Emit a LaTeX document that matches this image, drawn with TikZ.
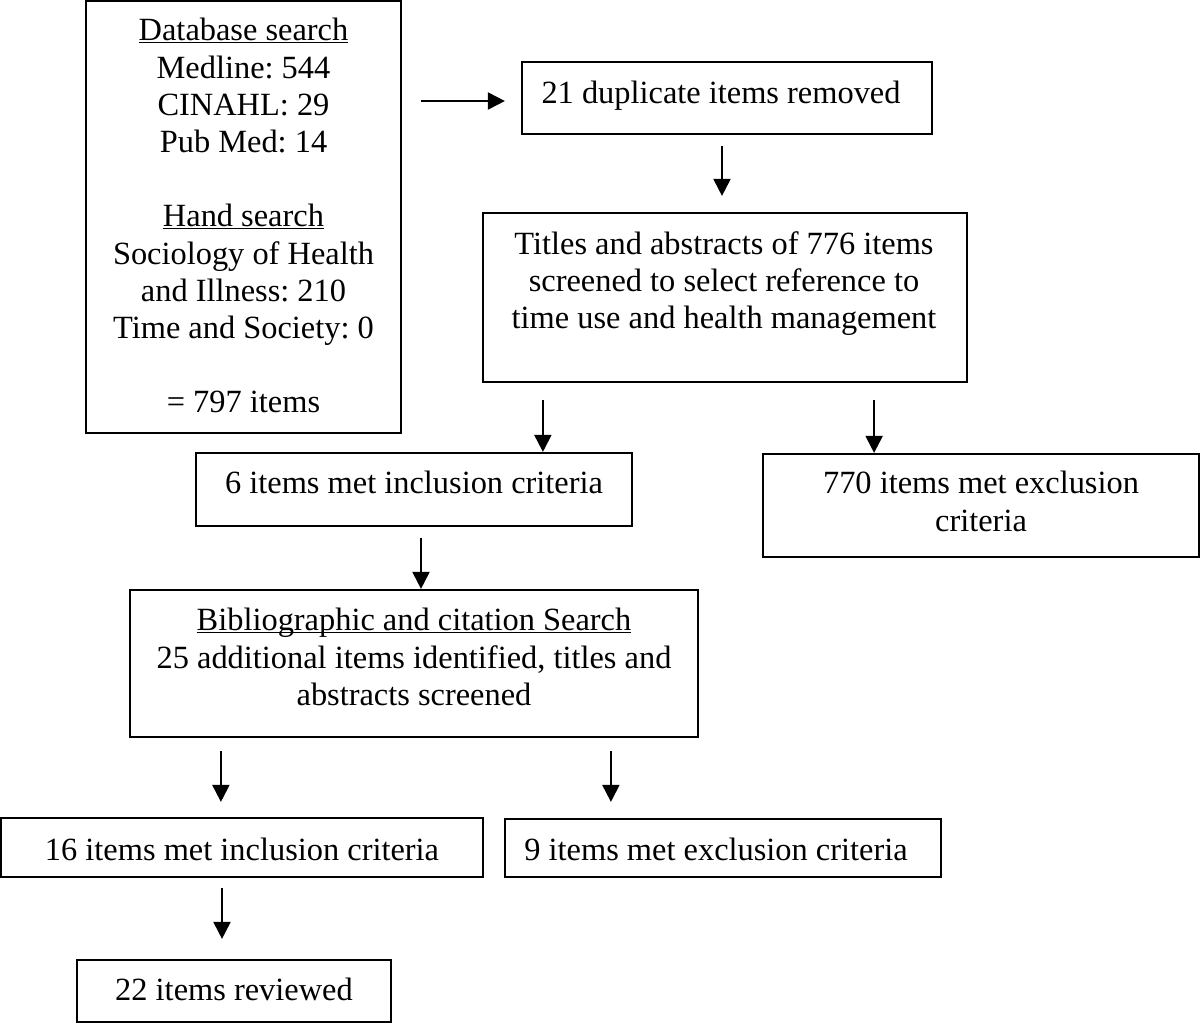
\documentclass[tikz,border=0pt]{standalone}
\usepackage{fontspec}
\setmainfont{Liberation Serif}
\usetikzlibrary{arrows.meta}
\frenchspacing
\newcommand\myul[1]{\setbox0\hbox{#1}\rlap{\rule[-1.3pt]{\wd0}{0.7pt}}\box0}
\tikzset{
  box/.style={draw, line width=1.1pt, rectangle, inner sep=0pt},
  txt/.style={inner sep=0pt, align=center, font=\fontsize{16.2pt}{18.6pt}\selectfont\frenchspacing},
  arr/.style={line width=1pt, -{Triangle[length=8.5pt, width=8.5pt]}},
}
\begin{document}
\begin{tikzpicture}[x=0.5pt, y=-0.5pt]
\useasboundingbox[fill=white] (0,0) rectangle (1200,1024);
% boxes
\node[box, minimum width=157.5pt, minimum height=216pt] (db) at (243.5,217) {};
\node[box, minimum width=205pt, minimum height=36pt] (dup) at (727,98) {};
\node[box, minimum width=242pt, minimum height=84.5pt] (tit) at (725,297.5) {};
\node[box, minimum width=218pt, minimum height=36.5pt] (inc6) at (414,489.5) {};
\node[box, minimum width=218pt, minimum height=51.5pt] (exc770) at (981,505.5) {};
\node[box, minimum width=284pt, minimum height=73.5pt] (bib) at (414,663.5) {};
\node[box, minimum width=241pt, minimum height=29.5pt] (inc16) at (242,847.5) {};
\node[box, minimum width=218pt, minimum height=29pt] (exc9) at (723,848) {};
\node[box, minimum width=157pt, minimum height=31pt] (rev22) at (234,991) {};
% texts
\node[txt, anchor=north] (tdb) at (243.5,18) {\myul{Database search}\\Medline: 544\\CINAHL: 29\\Pub Med: 14\\[18.6pt]\myul{Hand search}\\Sociology of Health\\and Illness: 210\\Time and Society: 0\\[18.6pt]= 797 items};
\node[txt, anchor=base] (tdup) at (721,103) {21 duplicate items removed};
\node[txt, anchor=north] (ttit) at (724,231) {Titles and abstracts of 776 items\\screened to select reference to\\time use and health management};
\node[txt, anchor=base] (tinc6) at (414,493) {6 items met inclusion criteria};
\node[txt, anchor=north] (texc770) at (981,471) {770 items met exclusion\\criteria};
\node[txt, anchor=north] (tbib) at (414,608) {\myul{Bibliographic and citation Search}\\25 additional items identified, titles and\\abstracts screened};
\node[txt, anchor=base] (tinc16) at (242,860) {16 items met inclusion criteria};
\node[txt, anchor=base] (texc9) at (716,860) {9 items met exclusion criteria};
\node[txt, anchor=base] (trev22) at (234,1000) {22 items reviewed};
% arrows
\draw[arr] ([shift={(19,3)}]db.east |- dup.west) -- ([shift={(-16,3)}]dup.west);
\draw[arr] ([shift={(-5,11)}]dup.south) -- ([shift={(-5,-16)}]dup.south |- tit.north);
\draw[arr] ([shift={(61,17)}]tit.south west) -- ([shift={(61,0)}]tit.south west |- inc6.north);
\draw[arr] ([shift={(-94,17)}]tit.south east) -- ([shift={(-94,0)}]tit.south east |- exc770.north);
\draw[arr] ([shift={(7,11)}]inc6.south) -- ([shift={(7,0)}]inc6.south |- bib.north);
\draw[arr] ([shift={(92,13)}]bib.south west) -- ([shift={(92,-15)}]bib.south west |- inc16.north);
\draw[arr] ([shift={(482,13)}]bib.south west) -- ([shift={(482,-16)}]bib.south west |- exc9.north);
\draw[arr] ([shift={(-20,10)}]inc16.south) -- ([shift={(-20,-20)}]inc16.south |- rev22.north);
\end{tikzpicture}
\end{document}
